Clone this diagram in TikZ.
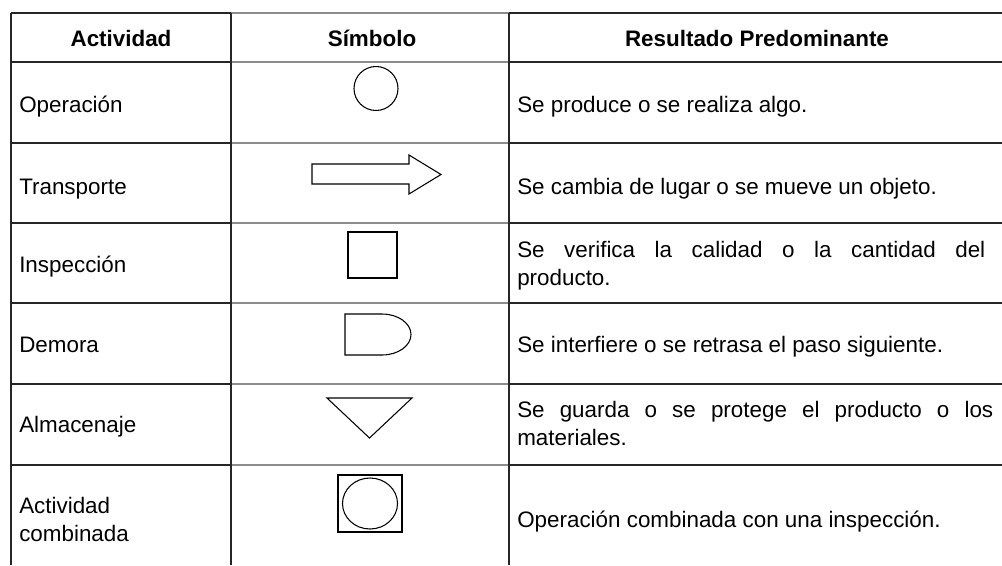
\documentclass[tikz,border=0pt]{standalone}
\usepackage{fontspec}
\setmainfont{Liberation Sans}
\usetikzlibrary{positioning}

\tikzset{
    tablerule/.style={line width=1pt, black!85},
    softrule/.style={line width=1pt, black!45},
    symb/.style={draw, line width=0.8pt},
    head/.style={inner sep=0pt, font=\fontsize{16.8}{21}\selectfont\bfseries},
    cell/.style={anchor=base west, inner sep=0pt, align=left, font=\fontsize{16.8}{21}\selectfont},
}

\begin{document}
\begin{tikzpicture}[x=0.75pt,y=-0.75pt]
    \useasboundingbox (0,0) rectangle (1002,565);
    \fill[white] (0,0) rectangle (1002,565);

    \foreach \y in {13,62,143,223,303,384,465} {
        \draw[tablerule] (11,\y) -- (231,\y);
        \draw[softrule] (231,\y) -- (509,\y);
        \draw[tablerule] (509,\y) -- (1002,\y);
    }
    \foreach \x in {11,231,509}
        \draw[tablerule] (\x,13) -- (\x,565);

    \node[head] (hact) at (121,38) {Actividad};
    \node[head] (hsim) at (372,38) {Símbolo};
    \node[head] (hres) at (757,38) {Resultado Predominante};

    \node[cell] (act1) at (19,112) {Operación};
    \node[cell] (act2) at (19,194) {Transporte};
    \node[cell] (act3) at (19,272) {Inspección};
    \node[cell] (act4) at (19,352) {Demora};
    \node[cell] (act5) at (19,432) {Almacenaje};
    \node[cell] (act6) at (19,541) {Actividad\\combinada};

    \draw[symb] (376,88.5) circle[radius=22];
    \draw[symb] (312,164) -- (409,164) -- (409,155) -- (441,174.5) -- (409,194) -- (409,184) -- (312,184) -- cycle;
    \draw[symb] (348,232) rectangle (397,278);
    \draw[symb] (345,314) -- (382,314) arc[start angle=-90, end angle=90, x radius=29, y radius=20.5] -- (345,355) -- cycle;
    \draw[symb] (327,398) -- (412,398) -- (369.5,438) -- cycle;
    \draw[symb] (338,475) rectangle (402,532);
    \draw[symb] (370,503.5) ellipse[x radius=27.5, y radius=25.5];

    \node[cell] (res1) at (517,112) {Se produce o se realiza algo.};
    \node[cell] (res2) at (517,194) {Se cambia de lugar o se mueve un objeto.};
    \node[cell] (res3) at (517,285) {\makebox[351pt][s]{Se verifica la calidad o la cantidad del}\\producto.};
    \node[cell] (res4) at (517,352) {Se interfiere o se retrasa el paso siguiente.};
    \node[cell] (res5) at (517,445) {\makebox[357pt][s]{Se guarda o se protege el producto o los}\\materiales.};
    \node[cell] (res6) at (517,527) {Operación combinada con una inspección.};
\end{tikzpicture}
\end{document}
